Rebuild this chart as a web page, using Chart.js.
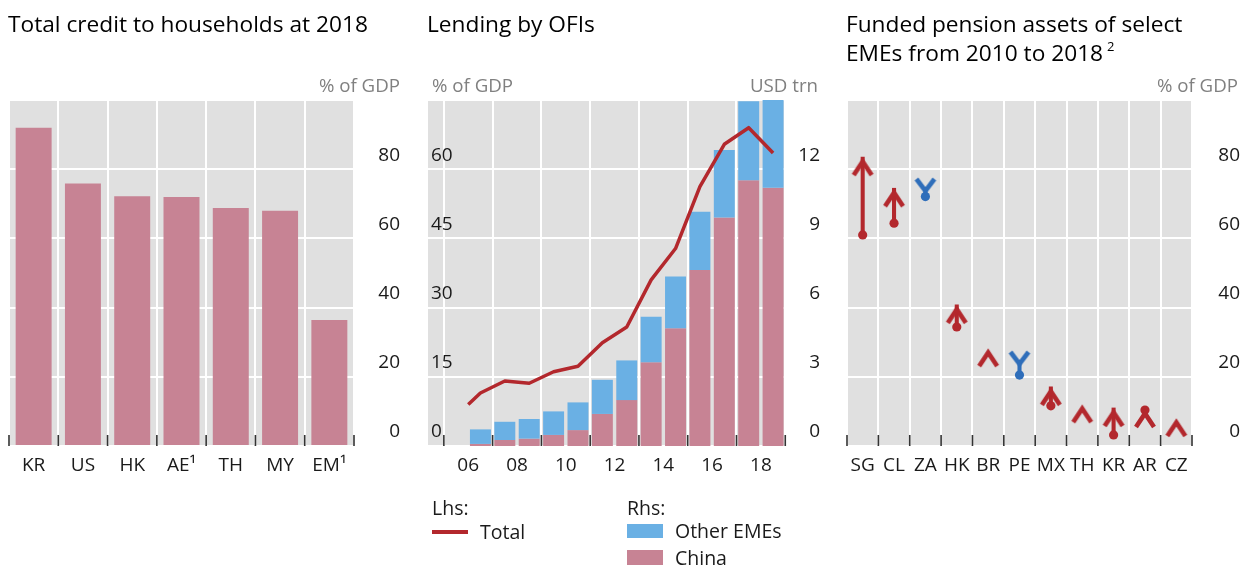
<!DOCTYPE html>
<html>
<head>
<meta charset="utf-8">
<script src="https://cdn.jsdelivr.net/npm/chart.js@4.4.1/dist/chart.umd.min.js"></script>
<style>
  html, body { margin: 0; padding: 0; background: #fff; }
  body { width: 1241px; height: 566px; position: relative; overflow: hidden; font-family: 'Open Sans', 'Noto Sans', sans-serif; }
  canvas { position: absolute; top: 0; }
  .txt { position: absolute; white-space: nowrap; z-index: 5; }
  .title { font-size: 22.7px; color: #000; line-height: 29px; }
  .unit { font-size: 18.7px; color: #808080; line-height: 24px; }
  .leg { font-size: 19.5px; color: #1a1a1a; line-height: 24px; }
  .sw { position: absolute; z-index: 5; }
  sup { font-size: 13px; vertical-align: 10px; line-height: 0; margin-left: 4px; }
</style>
</head>
<body>
<canvas id="c1" width="415" height="566" style="left:0px"></canvas>
<canvas id="c2" width="420" height="566" style="left:415px"></canvas>
<canvas id="c3" width="406" height="566" style="left:835px"></canvas>

<div class="txt title" style="left:8px; top:9px;">Total credit to households at 2018</div>
<div class="txt title" style="left:427px; top:9px;">Lending by OFIs</div>
<div class="txt title" style="left:846px; top:9px;">Funded pension assets of select<br>EMEs from 2010 to 2018<sup>2</sup></div>

<div class="txt unit" style="right:841px; top:73px;">% of GDP</div>
<div class="txt unit" style="left:432px; top:73px;">% of GDP</div>
<div class="txt unit" style="right:423px; top:73px;">USD trn</div>
<div class="txt unit" style="right:3px; top:73px;">% of GDP</div>

<div class="txt leg" style="left:432px; top:496px;">Lhs:</div>
<div class="sw" style="left:432px; top:530px; width:36px; height:3.5px; background:#B3282D;"></div>
<div class="txt leg" style="left:480px; top:520px;">Total</div>
<div class="txt leg" style="left:627px; top:496px;">Rhs:</div>
<div class="sw" style="left:627px; top:524px; width:36px; height:14px; background:#6AB0E4;"></div>
<div class="txt leg" style="left:675px; top:519px;">Other EMEs</div>
<div class="sw" style="left:627px; top:550px; width:36px; height:15px; background:#C78394;"></div>
<div class="txt leg" style="left:675px; top:546px;">China</div>

<script>
// ---------------- Data ----------------
// Panel 1: Total credit to households at 2018 (% of GDP)
const hhCountries = ['KR', 'US', 'HK', 'AE\u00B9', 'TH', 'MY', 'EM\u00B9'];
const hhCredit = [92.0, 75.9, 72.2, 72.0, 68.8, 68.0, 36.4];
const gdpTickLabels = [0, 20, 40, 60, 80];

// Panel 2: Lending by OFIs
const ofiYears = [2006, 2007, 2008, 2009, 2010, 2011, 2012, 2013, 2014, 2015, 2016, 2017, 2018];
const chinaLending = [0.09, 0.26, 0.32, 0.48, 0.69, 1.39, 1.99, 3.63, 5.10, 7.63, 9.91, 11.52, 11.20]; // USD trn
const otherEMEsLending = [0.63, 0.79, 0.85, 1.02, 1.20, 1.48, 1.72, 1.97, 2.25, 2.52, 2.92, 3.43, 4.30]; // USD trn
const totalDates = [2006.0, 2006.5, 2007.5, 2008.5, 2009.5, 2010.5, 2011.5, 2012.5, 2013.5, 2014.5, 2015.5, 2016.5, 2017.5, 2018.5];
const totalPctGDP = [9.0, 11.5, 14.1, 13.6, 16.1, 17.3, 22.4, 25.8, 36.0, 42.8, 56.2, 65.4, 69.0, 63.5];
const lhsTickLabels = [0, 15, 30, 45, 60];
const rhsTickLabels = [0, 3, 6, 9, 12];

// Panel 3: Funded pension assets 2010 -> 2018 (% of GDP)
const pensionCountries = ['SG', 'CL', 'ZA', 'HK', 'BR', 'PE', 'MX', 'TH', 'KR', 'AR', 'CZ'];
const pension2010 = [61.0, 64.4, 72.1, 34.4, null, 20.5, 11.6, null, 3.2, 10.4, null];
const pension2018 = [83.5, 74.5, 73.7, 40.8, 28.3, 23.7, 17.1, 12.1, 11.0, 10.7, 8.1];
const pensionTrend = ['up', 'up', 'down', 'up', 'up', 'down', 'up', 'up', 'up', 'up', 'up'];

// ---------------- Styles ----------------
const GREY = '#E0E0E0';
const PINK = '#C78394';
const BLUE = '#6AB0E4';
const RED = '#B3282D';
const DBLUE = '#2F6EBA';
const TICKCOL = '#1a1a1a';

Chart.defaults.font.family = "'Open Sans', 'Noto Sans', sans-serif";
Chart.defaults.font.size = 19;
Chart.defaults.color = TICKCOL;

const areaPlugin = {
  id: 'areaPlugin',
  beforeDraw(chart) {
    const { ctx, chartArea: a } = chart;
    ctx.save();
    ctx.fillStyle = GREY;
    ctx.fillRect(a.left, a.top, a.right - a.left, a.bottom - a.top);
    ctx.restore();
  },
  afterDatasetsDraw(chart) {
    const { ctx, chartArea: a } = chart;
    const xs = chart.scales.x;
    const px = [];
    if (xs.type === 'category') {
      const n = xs.getLabels().length;
      for (let i = 0; i <= n; i++) px.push(xs.left + i * (xs.right - xs.left) / n);
    } else {
      xs.ticks.forEach(t => { if (Math.abs(t.value % 2) === 1) px.push(xs.getPixelForValue(t.value)); });
    }
    ctx.save();
    ctx.strokeStyle = '#333';
    ctx.lineWidth = 1.6;
    px.forEach(x => {
      ctx.beginPath();
      ctx.moveTo(x, a.bottom);
      ctx.lineTo(x, a.bottom - 11);
      ctx.stroke();
    });
    ctx.restore();
  }
};

const baseOpts = {
  responsive: false,
  animation: false,
  devicePixelRatio: 1,
  plugins: { legend: { display: false }, tooltip: { enabled: false } },
  events: []
};

function gridOpts(extra) {
  return Object.assign({ color: '#fff', lineWidth: 2, drawTicks: false }, extra || {});
}

// ---------------- Chart 1 ----------------
new Chart(document.getElementById('c1'), {
  type: 'bar',
  data: {
    labels: hhCountries,
    datasets: [{
      data: hhCredit,
      backgroundColor: PINK,
      barPercentage: 0.73,
      categoryPercentage: 1
    }]
  },
  options: Object.assign({}, baseOpts, {
    layout: { padding: { left: 9, right: 15, top: 100, bottom: 80 } },
    scales: {
      x: {
        offset: true,
        grid: gridOpts({ offset: true }),
        border: { display: false },
        ticks: { padding: 8, maxRotation: 0, autoSkip: false },
        afterFit(s) { s.height = 40; }
      },
      y: {
        position: 'right',
        min: 0, max: 100,
        grid: gridOpts(),
        border: { display: false },
        ticks: {
          stepSize: 20, padding: 24, crossAlign: 'far', labelOffset: -14,
          callback: v => gdpTickLabels.includes(v) ? String(v) : ''
        },
        afterFit(s) { s.width = 46; }
      }
    }
  }),
  plugins: [areaPlugin]
});

// ---------------- Chart 2 ----------------
new Chart(document.getElementById('c2'), {
  type: 'bar',
  data: {
    datasets: [
      {
        type: 'line',
        label: 'Total',
        data: totalDates.map((x, i) => ({ x: x, y: totalPctGDP[i] })),
        yAxisID: 'yL',
        borderColor: RED,
        borderWidth: 3.5,
        borderJoinStyle: 'round',
        pointRadius: 0,
        tension: 0
      },
      {
        label: 'Other EMEs',
        data: ofiYears.map((yr, i) => ({ x: yr + 0.5, y: [chinaLending[i], chinaLending[i] + otherEMEsLending[i]] })),
        yAxisID: 'yR',
        backgroundColor: BLUE,
        grouped: false,
        barPercentage: 0.86,
        categoryPercentage: 1
      },
      {
        label: 'China',
        data: ofiYears.map((yr, i) => ({ x: yr + 0.5, y: [0, chinaLending[i]] })),
        yAxisID: 'yR',
        backgroundColor: PINK,
        grouped: false,
        barPercentage: 0.86,
        categoryPercentage: 1
      }
    ]
  },
  options: Object.assign({}, baseOpts, {
    layout: { padding: { left: 13, right: 15, top: 100, bottom: 80 } },
    scales: {
      x: {
        type: 'linear',
        min: 2004.35, max: 2019.03,
        offset: false,
        grid: gridOpts({
          offset: false,
          color: c => (c.tick && Math.abs(c.tick.value % 2) === 1) ? '#fff' : 'rgba(0,0,0,0)'
        }),
        border: { display: false },
        ticks: {
          stepSize: 1, includeBounds: false, padding: 8, maxRotation: 0, autoSkip: false,
          callback: v => (v % 2 === 0) ? String(v).slice(2) : ''
        },
        afterFit(s) { s.height = 40; }
      },
      yL: {
        position: 'left',
        min: 0, max: 75,
        grid: gridOpts(),
        border: { display: false },
        ticks: {
          stepSize: 15, mirror: true, padding: 3, labelOffset: -14,
          callback: v => lhsTickLabels.includes(v) ? String(v) : ''
        },
        afterFit(s) { s.width = 0; }
      },
      yR: {
        position: 'right',
        min: 0, max: 15,
        grid: { display: false, drawTicks: false },
        border: { display: false },
        ticks: {
          stepSize: 3, padding: 12, crossAlign: 'far', labelOffset: -14,
          callback: v => rhsTickLabels.includes(v) ? String(v) : ''
        },
        afterFit(s) { s.width = 34; }
      }
    }
  }),
  plugins: [areaPlugin]
});

// ---------------- Chart 3 ----------------
function makeHead(dir, color) {
  const c = document.createElement('canvas');
  if (dir === 'up') {
    c.width = 26; c.height = 50;
  } else {
    c.width = 26; c.height = 36;
  }
  const ctx = c.getContext('2d');
  ctx.strokeStyle = color;
  ctx.lineWidth = 4.6;
  ctx.lineJoin = 'miter';
  ctx.lineCap = 'butt';
  ctx.beginPath();
  if (dir === 'up') {
    ctx.moveTo(4, 25 + 18);
    ctx.lineTo(13, 25 + 4.5);
    ctx.lineTo(22, 25 + 18);
  } else {
    ctx.moveTo(4, 18 - 12);
    ctx.lineTo(13, 18);
    ctx.lineTo(22, 18 - 12);
  }
  ctx.stroke();
  return c;
}
const upHead = makeHead('up', RED);
const downHead = makeHead('down', DBLUE);
const trendColors = pensionTrend.map(t => t === 'up' ? RED : DBLUE);

new Chart(document.getElementById('c3'), {
  type: 'bar',
  data: {
    labels: pensionCountries,
    datasets: [
      {
        type: 'line',
        label: '2018',
        data: pension2018,
        showLine: false,
        pointStyle: pensionTrend.map(t => t === 'up' ? upHead : downHead),
        pointRadius: 5,
        pointHoverRadius: 5
      },
      {
        type: 'line',
        label: '2010',
        data: pension2010,
        showLine: false,
        pointStyle: 'circle',
        pointRadius: 4.6,
        pointBackgroundColor: trendColors,
        pointBorderWidth: 0
      },
      {
        label: 'change',
        data: pension2010.map((v, i) => v === null ? null : [Math.min(v, pension2018[i]), Math.max(v, pension2018[i])]),
        backgroundColor: trendColors,
        barThickness: 3.4
      }
    ]
  },
  options: Object.assign({}, baseOpts, {
    layout: { padding: { left: 12, right: 1, top: 100, bottom: 80 } },
    scales: {
      x: {
        offset: true,
        grid: gridOpts({ offset: true }),
        border: { display: false },
        ticks: { padding: 8, maxRotation: 0, autoSkip: false },
        afterFit(s) { s.height = 40; }
      },
      y: {
        position: 'right',
        min: 0, max: 100,
        grid: gridOpts(),
        border: { display: false },
        ticks: {
          stepSize: 20, padding: 25, crossAlign: 'far', labelOffset: -14,
          callback: v => gdpTickLabels.includes(v) ? String(v) : ''
        },
        afterFit(s) { s.width = 48; }
      }
    }
  }),
  plugins: [areaPlugin]
});
</script>
</body>
</html>
